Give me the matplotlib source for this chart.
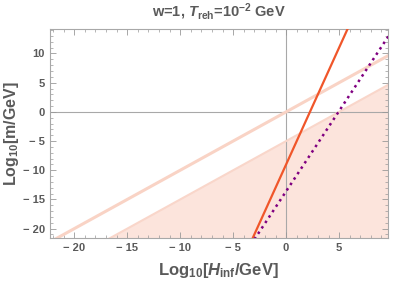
import matplotlib.pyplot as plt
from matplotlib.ticker import MultipleLocator, FuncFormatter

plt.rcParams['font.family'] = ['Liberation Sans', 'DejaVu Sans']
plt.rcParams['mathtext.fontset'] = 'custom'
plt.rcParams['mathtext.it'] = 'Liberation Sans:italic:bold'
plt.rcParams['mathtext.rm'] = 'Liberation Sans:bold'

grey = '#5a5a5a'

# endpoints (log10 H_inf, log10 m)
band_x = [-30, 15]
band_y = [-30, 15]
bound_x = [-30, 15]
bound_y = [-35, 10]
orange_x = [-4, 7]
orange_y = [-25, 19]
purple_x = [-4, 10]
purple_y = [-24.6, 13.9]

xlim = (-22.3, 9.6)
ylim = (-21.6, 14.2)


def tick_fmt(v, pos):
    v = int(round(v))
    return f'\u2212 {abs(v)}' if v < 0 else f'{v}'


fig = plt.figure(figsize=(3.99, 2.84), dpi=100)
ax = fig.add_axes([0.125, 0.162, 0.847, 0.736])

ax.axhline(0, color='#a8a8a8', lw=0.8, zorder=1)
ax.axvline(0, color='#a8a8a8', lw=0.8, zorder=1)

ax.fill_between(bound_x, bound_y, -40, color='#fce4dc', lw=0, zorder=0)
ax.plot(bound_x, bound_y, color='#f9d6ca', lw=1.5, zorder=2)
ax.plot(band_x, band_y, color='#f9d3c5', lw=2.2, zorder=2)
ax.plot(orange_x, orange_y, color='#f0562a', lw=1.6, zorder=3)
ax.plot(purple_x, purple_y, color='#800080', lw=1.8, ls=(0, (1, 1.6)), zorder=3)

ax.set_xlim(*xlim)
ax.set_ylim(*ylim)

ax.xaxis.set_major_locator(MultipleLocator(5))
ax.xaxis.set_minor_locator(MultipleLocator(1))
ax.yaxis.set_major_locator(MultipleLocator(5))
ax.yaxis.set_minor_locator(MultipleLocator(1))
ax.xaxis.set_major_formatter(FuncFormatter(tick_fmt))
ax.yaxis.set_major_formatter(FuncFormatter(tick_fmt))
ax.tick_params(which='both', direction='in', top=True, right=True, colors='#999999',
               labelcolor=grey, labelsize=8)
ax.tick_params(which='major', length=4, width=0.6)
ax.tick_params(which='minor', length=2, width=0.5)
for lab in ax.get_xticklabels() + ax.get_yticklabels():
    lab.set_fontweight('bold')
for s in ax.spines.values():
    s.set_color('#a8a8a8')
    s.set_linewidth(0.8)

ax.set_xlabel(r'Log$_{10}$[$H_{\rm inf}$/GeV]', fontsize=12, fontweight='bold', color=grey, labelpad=6)
ax.set_ylabel(r'Log$_{10}$[m/GeV]', fontsize=11.5, fontweight='bold', color=grey, labelpad=1)
ax.set_title(r'w=1, $T_{\rm reh}$=10$^{-2}$ GeV', fontsize=10.5, fontweight='bold', color=grey, pad=9)

fig.savefig('out.png', dpi=100)
